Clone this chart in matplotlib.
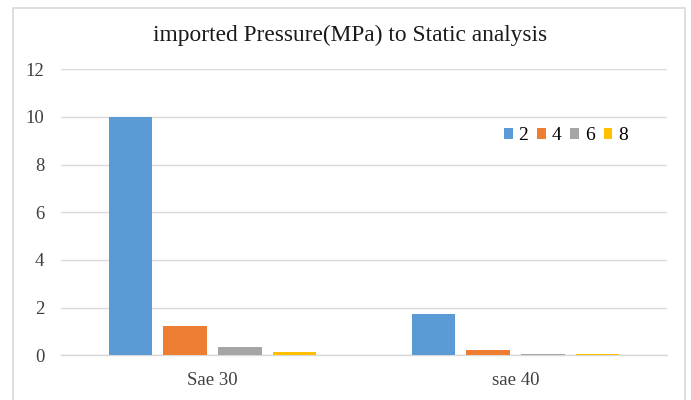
import matplotlib
matplotlib.use("Agg")
import matplotlib.pyplot as plt
from matplotlib.patches import Rectangle
import numpy as np

categories = ["Sae 30", "sae 40"]
series_names = ["2", "4", "6", "8"]
values_2 = [10.0, 1.73]
values_4 = [1.24, 0.21]
values_6 = [0.34, 0.07]
values_8 = [0.14, 0.07]
y_ticks = [0, 2, 4, 6, 8, 10, 12]

colors = ["#5B9BD5", "#ED7D31", "#A5A5A5", "#FFC000"]
series = [values_2, values_4, values_6, values_8]

plt.rcParams["font.family"] = ["Liberation Serif", "DejaVu Serif"]

W, H = 691, 400
fig = plt.figure(figsize=(W / 100, H / 100), dpi=100)
fig.patch.set_facecolor("white")

# chart frame
fig.add_artist(Rectangle((13 / W, -0.05), (685 - 13) / W, 1.05 - 8 / H,
                         transform=fig.transFigure, fill=False,
                         edgecolor="#D9D9D9", linewidth=1.2, clip_on=False))

ax = fig.add_axes([61 / W, 1 - 355.3 / H, (667 - 61) / W, (355.3 - 69.3) / H])

x = np.arange(len(categories))
pitch = 0.181
width = 0.143
for i, (name, vals, c) in enumerate(zip(series_names, series, colors)):
    offs = (i - 1.5) * pitch
    ax.bar(x + offs, vals, width=width, color=c, label=name, zorder=3)

ax.set_xlim(-0.5, 1.5)
ax.set_ylim(0, 12)
ax.set_yticks(y_ticks)
ax.set_yticklabels([str(t) for t in y_ticks])
ax.set_xticks(x)
ax.set_xticklabels(categories)
ax.tick_params(axis="both", length=0, labelsize=13.5, colors="#404040")
ax.tick_params(axis="y", pad=12)
ax.tick_params(axis="x", pad=12)
ax.grid(axis="y", color="#D9D9D9", linewidth=1.0, zorder=0)
for s in ["left", "right", "top"]:
    ax.spines[s].set_visible(False)
ax.spines["bottom"].set_color("#D9D9D9")
ax.spines["bottom"].set_linewidth(1.0)

fig.text(350 / W, 1 - 35 / H, "imported Pressure(MPa) to Static analysis",
         ha="center", va="center", fontsize=16.8, color="#1a1a1a")

ax.legend(loc="center", bbox_to_anchor=((566 - 61) / (667 - 61), (355.3 - 136) / (355.3 - 69.3)),
          ncol=4, frameon=False, fontsize=14, handlelength=0.45, handleheight=0.45,
          handletextpad=0.31, columnspacing=0.45, borderaxespad=0, borderpad=0)

fig.savefig("out.png", dpi=100)
